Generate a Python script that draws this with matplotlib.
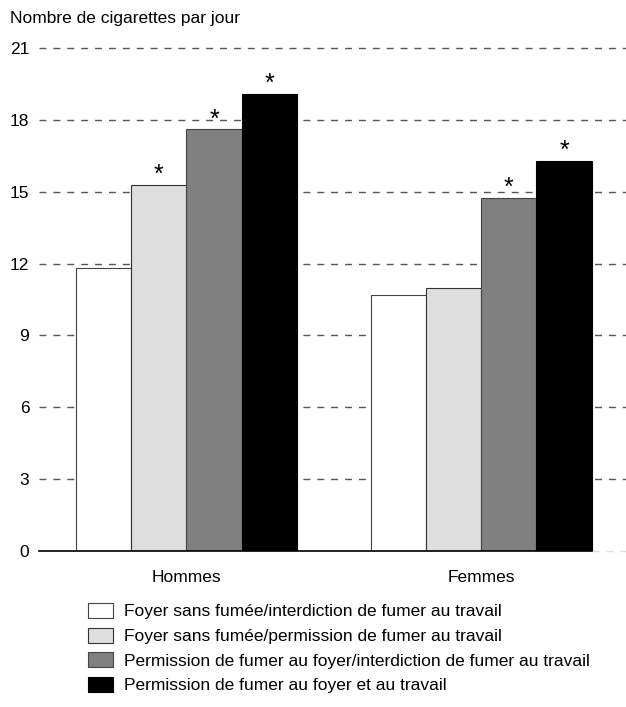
import numpy as np
import matplotlib.pyplot as plt
from matplotlib.patches import Patch

# Data
groups = ['Hommes', 'Femmes']
series = ['Foyer sans fumée/interdiction de fumer au travail',
          'Foyer sans fumée/permission de fumer au travail',
          'Permission de fumer au foyer/interdiction de fumer au travail',
          'Permission de fumer au foyer et au travail']
values = [[11.8, 10.7],
          [15.3, 11.0],
          [17.6, 14.75],
          [19.1, 16.3]]
signif = [[False, False],
          [True, False],
          [True, True],
          [True, True]]
yticks = [0, 3, 6, 9, 12, 15, 18, 21]

colors = ['#ffffff', '#dedede', '#808080', '#000000']
edges = ['#444444', '#333333', '#444444', '#000000']

plt.rcParams['font.family'] = ['Liberation Sans', 'DejaVu Sans']
fs = 12.5

fig = plt.figure(figsize=(6.26, 7.07), dpi=100)
ax = fig.add_axes([39/626, 1 - 551/707, 1 - 39/626, (551 - 48)/707])

centers = np.array([0.0, 5.33])
w = 1.0
for i in range(len(series)):
    x = centers + (i - 1.5) * w
    ax.bar(x, values[i], width=w, color=colors[i], edgecolor=edges[i],
           linewidth=0.8, zorder=3)
    for j in range(len(groups)):
        if signif[i][j]:
            ax.annotate('*', (x[j], values[i][j]), xytext=(0, -1.5),
                        textcoords='offset points', ha='center', va='bottom',
                        fontsize=18, zorder=4)

for t in yticks[1:]:
    ax.axhline(t, color='#555555', lw=1.0, dashes=(5, 5), zorder=1, clip_on=False)
ax.plot([-2.667, centers[1] + 2 * w], [0, 0], color='black', lw=1.2, zorder=4,
        clip_on=False)
ax.plot([centers[1] + 2 * w, 7.95], [0, 0], color='#dddddd', lw=1.0,
        dashes=(5, 5), zorder=1, clip_on=False)

ax.set_xlim(-2.667, 7.95)
ax.set_ylim(0, 21)
ax.set_yticks(yticks)
ax.set_xticks(centers)
ax.set_xticklabels(groups)
ax.tick_params(axis='both', length=0, labelsize=fs)
ax.tick_params(axis='y', pad=7)
ax.tick_params(axis='x', pad=14)
for s in ax.spines.values():
    s.set_visible(False)

fig.text(10/626, 1 - 18/707, 'Nombre de cigarettes par jour', fontsize=fs,
         ha='left', va='center')

handles = [Patch(facecolor=colors[i], edgecolor=edges[i], linewidth=0.8)
           for i in range(len(series))]
fig.legend(handles, series, loc='upper left', bbox_to_anchor=(88/626, 1 - 603/707),
           frameon=False, fontsize=fs, handlelength=1.45, handleheight=0.95,
           handletextpad=0.6, labelspacing=0.47, borderaxespad=0, borderpad=0)

fig.savefig('out.png', dpi=100)
